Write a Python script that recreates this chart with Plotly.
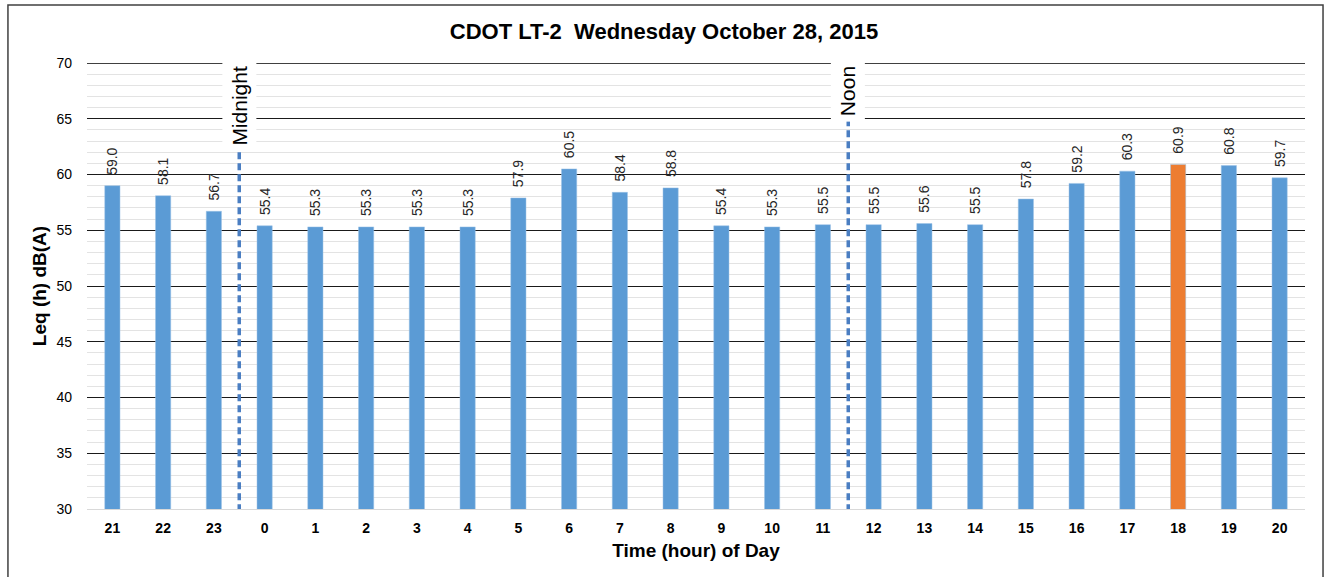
import plotly.graph_objects as go

# Hourly Leq values, 21:00 on the previous evening through 20:00
hours = ["21", "22", "23", "0", "1", "2", "3", "4", "5", "6", "7", "8",
         "9", "10", "11", "12", "13", "14", "15", "16", "17", "18", "19", "20"]
leq = [59.0, 58.1, 56.7, 55.4, 55.3, 55.3, 55.3, 55.3, 57.9, 60.5, 58.4, 58.8,
       55.4, 55.3, 55.5, 55.5, 55.6, 55.5, 57.8, 59.2, 60.3, 60.9, 60.8, 59.7]
peak_hour = "18"
y_min, y_max = 30, 70

# Markers placed between hour categories: label, left hour, right hour,
# label centre (dB), top of the dashed line (dB)
markers = [("Midnight", "23", "0", 66.2, 62.4), ("Noon", "11", "12", 67.5, 65.3)]

FONT = "Liberation Sans, Arial, sans-serif"
BLUE = "#5B9BD5"
ORANGE = "#ED7D31"
LINE = "#4A7EC2"
GRID = "#1a1a1a"

colors = [ORANGE if h == peak_hour else BLUE for h in hours]

fig = go.Figure()
fig.add_trace(go.Bar(
    x=hours, y=leq,
    marker=dict(color=colors, line=dict(color="#9DC3E6", width=0.5)),
    width=0.3,
    # leading no-break spaces leave a gap between the bar top and its label
    text=["\u00a0\u00a0" + f"{v:.1f}" for v in leq],
    textposition="outside",
    textangle=-90,
    constraintext="none",
    textfont=dict(family=FONT, size=14, color="#262626"),
    cliponaxis=False,
    hoverinfo="x+y",
))

shapes = []
annotations = []

# Major gridline along the top of the range (annotations sit over it)
shapes.append(dict(
    type="line", xref="paper", yref="y",
    x0=0, x1=1, y0=y_max, y1=y_max,
    line=dict(color="#000000", width=1.6), layer="below",
))

for label, left, right, ytext, ytop in markers:
    xpos = (hours.index(left) + hours.index(right)) / 2
    shapes.append(dict(
        type="line", xref="x", yref="y",
        x0=xpos, x1=xpos, y0=y_min - 0.2, y1=ytop,
        line=dict(color=LINE, width=3.5, dash="7px,4px"),
        layer="above",
    ))
    annotations.append(dict(
        x=xpos, y=ytext, xref="x", yref="y",
        text=label, textangle=-90, showarrow=False,
        font=dict(family=FONT, size=21, color="#000000"),
        bgcolor="#ffffff", borderpad=5,
    ))

# Outer chart frame
shapes.append(dict(
    type="rect", xref="paper", yref="paper",
    x0=-0.0649, x1=1.0148, y0=-0.2, y1=1.130,
    line=dict(color="#404040", width=1.5), layer="below",
))

fig.update_layout(
    width=1328, height=577,
    margin=dict(l=87, r=23, t=63, b=68),
    paper_bgcolor="#ffffff", plot_bgcolor="#ffffff",
    title=dict(
        text="<b>CDOT LT-2  Wednesday October 28, 2015</b>",
        x=0.5, xanchor="center", y=0.945, yanchor="middle",
        font=dict(family=FONT, size=22, color="#000000"),
    ),
    showlegend=False,
    bargap=0.7,
    shapes=shapes,
    annotations=annotations,
    xaxis=dict(
        type="category",
        categoryorder="array", categoryarray=hours,
        showgrid=False, zeroline=False,
        showline=True, linecolor="#d9d9d9", linewidth=1,
        ticks="", ticklabelstandoff=6,
        tickfont=dict(family=FONT, size=14, color="#000000", weight="bold"),
        title=dict(text="<b>Time (hour) of Day</b>", standoff=8,
                   font=dict(family=FONT, size=19, color="#000000")),
    ),
    yaxis=dict(
        range=[y_min, y_max], dtick=5, tick0=y_min,
        showgrid=True, gridcolor=GRID, gridwidth=1,
        zeroline=False, showline=False,
        ticks="", ticklabelstandoff=14,
        tickfont=dict(family=FONT, size=14, color="#000000"),
        minor=dict(dtick=1, tick0=y_min, showgrid=True, gridcolor="#e3e3e3", gridwidth=1),
        title=dict(text="<b>Leq (h) dB(A)</b>", standoff=4,
                   font=dict(family=FONT, size=19, color="#000000")),
    ),
)

fig.write_html("out.html")
